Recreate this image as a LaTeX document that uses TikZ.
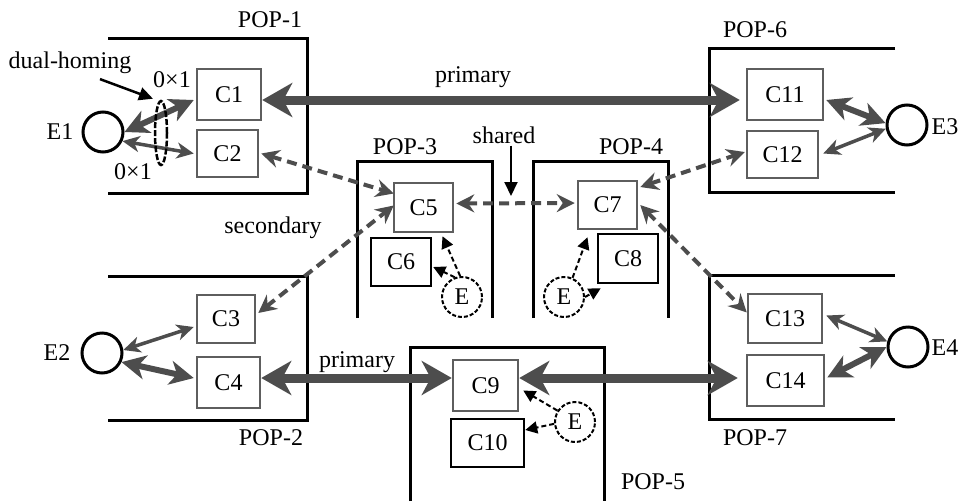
\documentclass[tikz,border=0pt]{standalone}
\usepackage{fontspec}
\setmainfont{Liberation Serif}
\usetikzlibrary{arrows.meta,shapes.geometric,calc}
\definecolor{agray}{HTML}{4D4D4D}
\definecolor{bgray}{HTML}{5E5E5E}
\begin{document}
\begin{tikzpicture}[x=1pt,y=-1pt,
  font=\fontsize{24}{28}\selectfont,
  cbox/.style={draw=bgray,line width=2.5pt,inner sep=0pt,rectangle},
  bbox/.style={draw=black,line width=2.5pt,inner sep=0pt,rectangle},
  ecirc/.style={circle,draw=black,line width=3pt,minimum size=40pt,inner sep=0pt},
  edash/.style={circle,draw=black,line width=2pt,dash pattern=on 4pt off 2pt,minimum size=40pt,inner sep=0pt},
  lbl/.style={inner sep=0pt},
  popline/.style={draw=black,line width=3pt},
  prim/.style={draw=agray,line width=9pt,
    {Stealth[length=30pt,width=34pt,inset=9pt]}-{Stealth[length=30pt,width=34pt,inset=9pt]}},
  thickarr/.style={draw=agray,line width=6pt,
    {Stealth[length=24pt,width=24pt,inset=7pt]}-{Stealth[length=24pt,width=24pt,inset=7pt]}},
  thinarr/.style={draw=agray,line width=3.5pt,
    {Stealth[length=17pt,width=16pt,inset=5pt]}-{Stealth[length=17pt,width=16pt,inset=5pt]}},
  secarr/.style={draw=agray,line width=4pt,dash pattern=on 10pt off 6pt,
    {Stealth[length=18pt,width=18pt,inset=6pt]}-{Stealth[length=18pt,width=18pt,inset=6pt]}},
  earr/.style={draw=black,line width=2pt,dash pattern=on 5pt off 3pt,
    -{Triangle[length=12pt,width=12pt]}},
  blackarr/.style={draw=black,line width=2.5pt,-{Triangle[length=14pt,width=13pt]}}
]
\useasboundingbox (0,0) rectangle (960,501);

% POP outlines
\draw[popline] (108,38) -- (307,38) -- (307,193) -- (108,193);
\draw[popline] (108,276) -- (307,276) -- (307,420) -- (108,420);
\draw[popline] (357,318) -- (357,161) -- (492,161) -- (492,318);
\draw[popline] (533,318) -- (533,161) -- (668,161) -- (668,318);
\draw[popline] (410,501) -- (410,347) -- (604,347) -- (604,501);
\draw[popline] (895,48) -- (709,48) -- (709,192) -- (895,192);
\draw[popline] (895,275) -- (709,275) -- (709,419) -- (895,419);

% POP labels
\node[lbl] (P1) at (270,20) {POP-1};
\node[lbl] (P2) at (271,438) {POP-2};
\node[lbl] (P3) at (405,147) {POP-3};
\node[lbl] (P4) at (631,147) {POP-4};
\node[lbl] (P5) at (653,482) {POP-5};
\node[lbl] (P6) at (755,30) {POP-6};
\node[lbl] (P7) at (755,438) {POP-7};

% C boxes
\node[cbox,minimum width=64pt,minimum height=51pt] (C1) at (229,94.5) {C1};
\node[cbox,minimum width=61pt,minimum height=47pt] (C2) at (227.5,153.5) {C2};
\node[cbox,minimum width=58pt,minimum height=48pt] (C3) at (226,319) {C3};
\node[cbox,minimum width=63pt,minimum height=51pt] (C4) at (228.5,382.5) {C4};
\node[cbox,minimum width=59pt,minimum height=49pt] (C5) at (423.5,207.5) {C5};
\node[bbox,minimum width=60pt,minimum height=48pt] (C6) at (401,262) {C6};
\node[cbox,minimum width=59pt,minimum height=48pt] (C7) at (607.5,205) {C7};
\node[bbox,minimum width=60pt,minimum height=49pt] (C8) at (628,258.5) {C8};
\node[cbox,minimum width=65pt,minimum height=51pt] (C9) at (485.5,385.5) {C9};
\node[bbox,minimum width=73pt,minimum height=48pt] (C10) at (487.5,443) {C10};
\node[cbox,minimum width=76pt,minimum height=51pt] (C11) at (785,94.5) {C11};
\node[cbox,minimum width=71pt,minimum height=47pt] (C12) at (782.5,154.5) {C12};
\node[cbox,minimum width=74pt,minimum height=49pt] (C13) at (785,318.5) {C13};
\node[cbox,minimum width=77pt,minimum height=51pt] (C14) at (785.5,380.5) {C14};

% Endpoints
\node[ecirc] (E1) at (103,132) {};
\node[ecirc] (E2) at (102,353) {};
\node[ecirc] (E3) at (907,125) {};
\node[ecirc] (E4) at (908,347) {};
\node[lbl] (lE1) at (60,132) {E1};
\node[lbl] (lE2) at (57,353) {E2};
\node[lbl] (lE3) at (945,127) {E3};
\node[lbl] (lE4) at (945,348) {E4};

\node[edash] (EA) at (462,297) {E};
\node[edash] (EB) at (564,297) {E};
\node[edash] (EC) at (575,422) {E};

% other labels
\node[lbl] (dh) at (70,63) {dual-homing};
\node[lbl] (z1) at (172,80) {0×1};
\node[lbl] (z2) at (133,172) {0×1};
\node[lbl] (pr1) at (473,77) {primary};
\node[lbl] (pr2) at (357,362) {primary};
\node[lbl] (sec) at (273,228) {secondary};
\node[lbl] (sh) at (504,135) {shared};
\coordinate (shtip) at (511,196);

% primary links
\draw[prim,shorten >=6pt] ($(C1.east)+(0,5.5)$) -- ($(C11.west)+(0,5.5)$);
\draw[prim] ($(C4.east)+(0,-4.5)$) -- ($(C9.west)+(0,-7.5)$);
\draw[prim,shorten >=8pt] ($(C9.east)+(0,-7.5)$) -- ($(C14.west)+(0,-2.5)$);

% access links
\draw[thickarr] (E1.east) -- ($(C1.west)+(-2,5.5)$);
\draw[thinarr] (E1.-25) -- ($(C2.west)+(-2,0)$);
\draw[thinarr] (E2.8) -- ($(C3.west)+(-2,8)$);
\draw[thickarr] (E2.-25) -- ($(C4.west)+(-2,-4.5)$);
\draw[thickarr] ($(C11.east)+(2,5.5)$) -- (E3.175);
\draw[thinarr] ($(C12.east)+(4,-1)$) -- (E3.190);
\draw[thinarr] ($(C13.east)+(3,-3)$) -- (E4.165);
\draw[thickarr] ($(C14.east)+(2,-3)$) -- (E4.180);

% secondary / shared dashed links
\draw[secarr] ($(C2.east)+(2,0)$) -- ($(C5.west)+(1,-14)$);
\draw[secarr] ($(C3.east)+(2,-6)$) -- ($(C5.west)+(1,-2)$);
\draw[secarr] ($(C5.east)+(2,-4)$) -- ($(C7.west)+(-2,-2)$);
\draw[secarr] ($(C7.east)+(2,-18)$) -- ($(C12.west)+(-1,-2.5)$);
\draw[secarr] ($(C7.east)+(2,0)$) -- ($(C13.west)+(0,-6)$);

% E dashed arrows
\draw[earr] (EA.95) -- ($(C5.south)+(19,3)$);
\draw[earr] (EA.110) -- ($(C6.east)+(1,5)$);
\draw[earr] (EB.66) -- ($(C7.south)+(-20,7)$);
\draw[earr] (EB.east) -- ($(C8.south west)+(4,4)$);
\draw[earr] (EC.147) -- ($(C9.east)+(4,5)$);
\draw[earr] (EC.185) -- ($(C10.east)+(0,-13)$);

% dual-homing ring and pointer
\node[ellipse,draw=black,line width=2.5pt,dash pattern=on 6pt off 2pt,minimum width=12pt,minimum height=64pt,inner sep=0pt] (ring) at (161,133) {};
\draw[blackarr] ($(dh.south)+(30,5)$) -- ($(ring.north)+(-8,-1)$);

% shared pointer
\draw[blackarr,line width=2pt] ($(sh.south)+(7,2)$) -- (shtip);
\end{tikzpicture}
\end{document}
